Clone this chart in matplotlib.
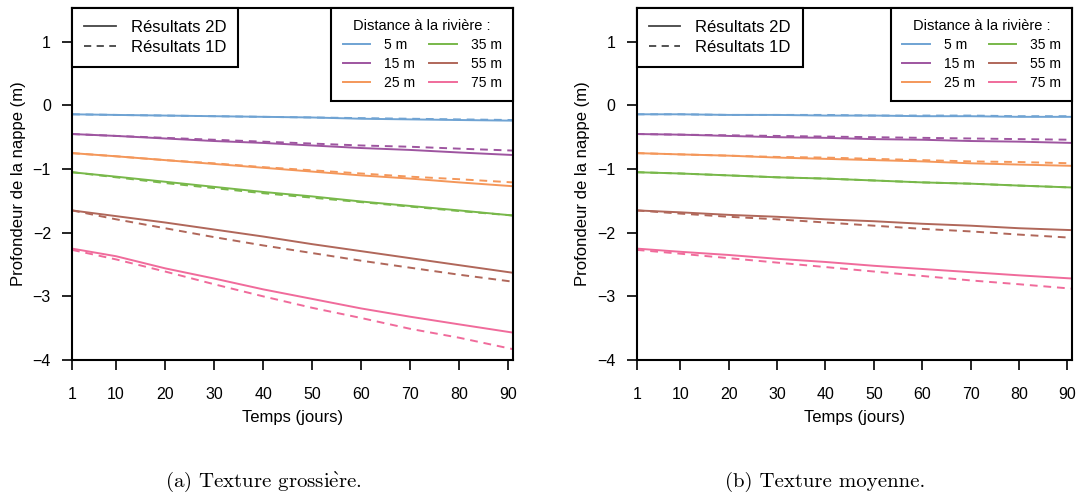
import numpy as np
import matplotlib
matplotlib.use("Agg")
import matplotlib.pyplot as plt
from matplotlib.lines import Line2D

plt.rcParams['font.family'] = ['Liberation Sans', 'DejaVu Sans']
plt.rcParams['mathtext.fontset'] = 'cm'

# Days at which the curves were read
days = [1, 10, 20, 30, 40, 50, 60, 70, 80, 91]
distances = ["5 m", "15 m", "25 m", "35 m", "55 m", "75 m"]
colors = ["#6fa3d3", "#9e55a0", "#f4975a", "#78b84a", "#b0675a", "#f06b9b"]

# (a) coarse texture: 2D and 1D results
coarse_2d = [
    [-0.14, -0.15, -0.16, -0.17, -0.18, -0.19, -0.21, -0.22, -0.23, -0.24],
    [-0.45, -0.48, -0.52, -0.56, -0.59, -0.63, -0.67, -0.70, -0.74, -0.78],
    [-0.75, -0.80, -0.86, -0.92, -0.98, -1.04, -1.10, -1.15, -1.21, -1.27],
    [-1.05, -1.12, -1.20, -1.28, -1.36, -1.43, -1.51, -1.58, -1.65, -1.73],
    [-1.65, -1.74, -1.84, -1.95, -2.06, -2.18, -2.29, -2.40, -2.51, -2.63],
    [-2.25, -2.37, -2.56, -2.72, -2.89, -3.04, -3.19, -3.32, -3.44, -3.57],
]
coarse_1d = [
    [-0.14, -0.15, -0.16, -0.17, -0.18, -0.19, -0.20, -0.21, -0.22, -0.23],
    [-0.45, -0.48, -0.51, -0.54, -0.57, -0.60, -0.63, -0.65, -0.68, -0.71],
    [-0.75, -0.80, -0.86, -0.91, -0.97, -1.02, -1.07, -1.12, -1.16, -1.21],
    [-1.05, -1.13, -1.22, -1.30, -1.38, -1.45, -1.52, -1.59, -1.66, -1.73],
    [-1.65, -1.79, -1.93, -2.07, -2.20, -2.32, -2.44, -2.55, -2.66, -2.77],
    [-2.27, -2.42, -2.61, -2.81, -3.00, -3.18, -3.34, -3.51, -3.65, -3.83],
]

# (b) medium texture
medium_2d = [
    [-0.14, -0.14, -0.15, -0.15, -0.16, -0.16, -0.17, -0.17, -0.18, -0.18],
    [-0.45, -0.46, -0.48, -0.50, -0.51, -0.53, -0.54, -0.56, -0.57, -0.59],
    [-0.75, -0.77, -0.79, -0.82, -0.84, -0.86, -0.88, -0.91, -0.93, -0.95],
    [-1.05, -1.07, -1.10, -1.13, -1.15, -1.18, -1.21, -1.23, -1.26, -1.29],
    [-1.65, -1.68, -1.72, -1.75, -1.79, -1.82, -1.86, -1.89, -1.93, -1.96],
    [-2.25, -2.30, -2.35, -2.41, -2.46, -2.52, -2.57, -2.62, -2.67, -2.72],
]
medium_1d = [
    [-0.14, -0.14, -0.15, -0.15, -0.15, -0.16, -0.16, -0.16, -0.17, -0.17],
    [-0.45, -0.46, -0.47, -0.48, -0.49, -0.50, -0.51, -0.52, -0.53, -0.54],
    [-0.75, -0.77, -0.79, -0.81, -0.82, -0.84, -0.86, -0.88, -0.89, -0.91],
    [-1.05, -1.07, -1.10, -1.13, -1.15, -1.18, -1.21, -1.23, -1.26, -1.29],
    [-1.65, -1.70, -1.75, -1.79, -1.84, -1.89, -1.94, -1.98, -2.03, -2.08],
    [-2.27, -2.33, -2.40, -2.47, -2.54, -2.61, -2.68, -2.75, -2.81, -2.88],
]

xticks = [1, 10, 20, 30, 40, 50, 60, 70, 80, 90]
yticks = [-4, -3, -2, -1, 0, 1]
# cmr10 has no accented letters, so the grave accent goes through mathtext
captions = [r"(a) Texture grossi$\grave{\mathrm{e}}$re.", "(b) Texture moyenne."]

DASH = (0, (4, 3))


def draw_panel(ax, res2d, res1d):
    for c, y2, y1 in zip(colors, res2d, res1d):
        ax.plot(days, y1, color=c, lw=1.4, ls=DASH)
        ax.plot(days, y2, color=c, lw=1.4)
    ax.set_xlim(1, 91)
    ax.set_ylim(-4, 1.53)
    ax.set_xticks(xticks)
    ax.set_yticks(yticks)
    ax.set_yticklabels(["\u22124", "\u22123", "\u22122", "\u22121", "0", "1"])
    ax.tick_params(direction="out", length=7.2, width=1.2, labelsize=11.5)
    ax.tick_params(axis="x", pad=12)
    ax.tick_params(axis="y", pad=8)
    for s in ax.spines.values():
        s.set_linewidth(1.5)
    ax.set_xlabel("Temps (jours)", fontsize=12, labelpad=6)
    ax.set_ylabel("Profondeur de la nappe (m)", fontsize=12, labelpad=5)

    # line type legend
    h1 = [Line2D([], [], color="#444444", lw=1.3),
          Line2D([], [], color="#444444", lw=1.3, ls=DASH)]
    leg1 = ax.legend(h1, ["Résultats 2D", "Résultats 1D"], loc="upper left",
                     fontsize=12, frameon=True, fancybox=False, borderaxespad=0,
                     handlelength=1.9, handletextpad=0.9, borderpad=0.72,
                     labelspacing=0.28, framealpha=1)
    leg1.get_frame().set_edgecolor("black")
    leg1.get_frame().set_linewidth(1.5)
    ax.add_artist(leg1)

    # colour legend
    h2 = [Line2D([], [], color=c, lw=1.4) for c in colors]
    leg2 = ax.legend(h2, distances, loc="upper right", ncol=2, fontsize=10,
                     title="Distance à la rivière :", title_fontsize=10.5,
                     frameon=True, fancybox=False, borderaxespad=0,
                     handlelength=2.0, handletextpad=1.0, columnspacing=1.0,
                     labelspacing=0.35, borderpad=0.8, framealpha=1)
    leg2.get_frame().set_edgecolor("black")
    leg2.get_frame().set_linewidth(1.5)


fig = plt.figure(figsize=(10.88, 4.96), dpi=100)
ax1 = fig.add_axes([0.0662, 0.2742, 0.4053, 0.7097])
ax2 = fig.add_axes([0.5852, 0.2742, 0.4004, 0.7097])

draw_panel(ax1, coarse_2d, coarse_1d)
draw_panel(ax2, medium_2d, medium_1d)

fig.text(0.2417, 0.028, captions[0], ha="center", va="center", fontsize=15,
         family="cmr10")
fig.text(0.758, 0.028, captions[1], ha="center", va="center", fontsize=15,
         family="cmr10")

fig.savefig("out.png", dpi=100)
